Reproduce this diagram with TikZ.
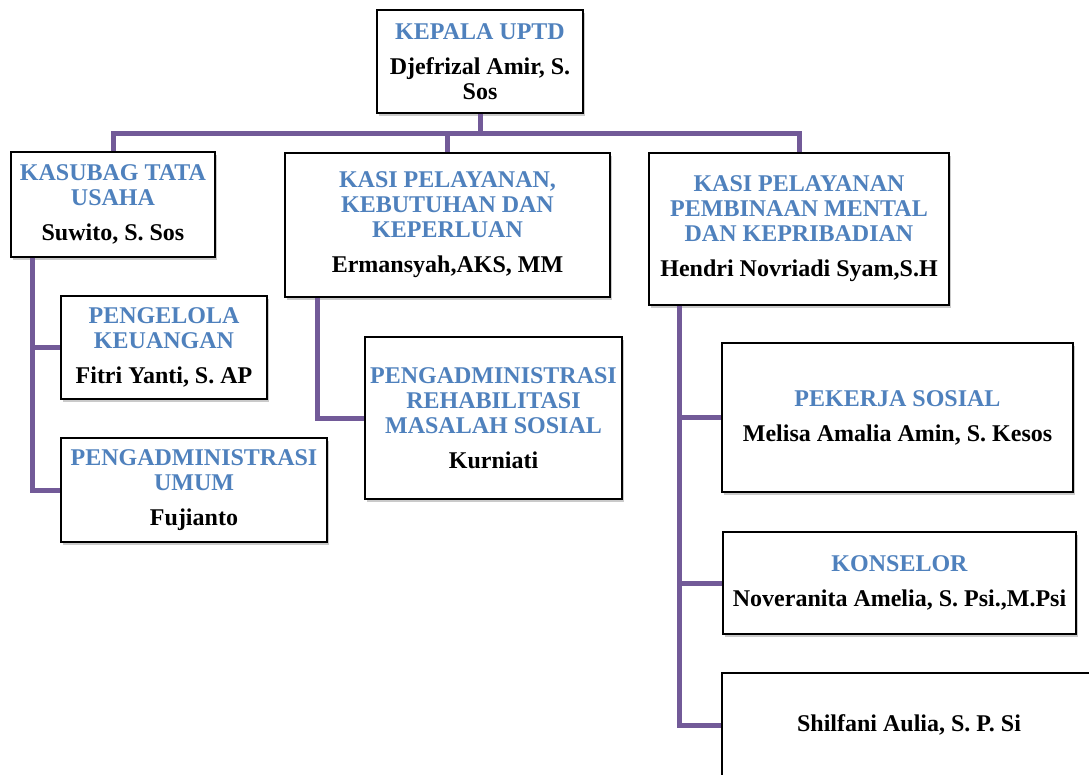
\documentclass[tikz,border=0pt]{standalone}
\usepackage{fontspec}
\setmainfont{Liberation Serif}
\usetikzlibrary{shadows}
\definecolor{tblue}{RGB}{79,129,189}
\definecolor{conpurple}{RGB}{114,90,152}
\newcommand{\ttl}[1]{\textcolor{tblue}{#1}}
\tikzset{
  orgbox/.style={draw=black, line width=1.6pt, fill=white, rectangle, inner sep=0pt,
    align=center, font=\fontsize{24}{25}\selectfont\bfseries,
    drop shadow={shadow xshift=2pt, shadow yshift=-3pt, opacity=0.35, fill=black!60}},
  conn/.style={draw=conpurple, line width=5pt, line join=miter}
}
\begin{document}
\begin{tikzpicture}[x=1pt, y=-1pt]
\clip (0,0) rectangle (1089,774);
\useasboundingbox (0,0) rectangle (1089,774);
\coordinate (bus) at (480,133);
\node[orgbox, minimum width=206pt, minimum height=103pt] (top) at (480,61.5) {\ttl{KEPALA UPTD}\\[10pt]Djefrizal Amir, S.\\Sos};
\node[orgbox, minimum width=204pt, minimum height=105pt] (kasubag) at (113,204.5) {\ttl{KASUBAG TATA}\\\ttl{USAHA}\\[10pt]Suwito, S. Sos};
\node[orgbox, minimum width=325pt, minimum height=144pt] (kasi1) at (447.5,225) {\ttl{KASI PELAYANAN,}\\\ttl{KEBUTUHAN DAN}\\\ttl{KEPERLUAN}\\[10pt]Ermansyah,AKS, MM};
\node[orgbox, minimum width=300pt, minimum height=152pt] (kasi2) at (799,229) {\ttl{KASI PELAYANAN}\\\ttl{PEMBINAAN MENTAL}\\\ttl{DAN KEPRIBADIAN}\\[10pt]Hendri Novriadi Syam,S.H};
\node[orgbox, minimum width=206pt, minimum height=103pt] (keu) at (164,347.5) {\ttl{PENGELOLA}\\\ttl{KEUANGAN}\\[10pt]Fitri Yanti, S. AP};
\node[orgbox, minimum width=266pt, minimum height=104pt] (umum) at (194,490) {\ttl{PENGADMINISTRASI}\\\ttl{UMUM}\\[10pt]Fujianto};
\node[orgbox, minimum width=257pt, minimum height=162pt] (rehab) at (493.5,418) {\ttl{PENGADMINISTRASI}\\\ttl{REHABILITASI}\\\ttl{MASALAH SOSIAL}\\[10pt]Kurniati};
\node[orgbox, minimum width=351pt, minimum height=149pt] (pekerja) at (897.5,417.5) {\ttl{PEKERJA SOSIAL}\\[10pt]Melisa Amalia Amin, S. Kesos};
\node[orgbox, minimum width=353pt, minimum height=102pt] (konselor) at (899.5,583) {\ttl{KONSELOR}\\[10pt]Noveranita Amelia, S. Psi.,M.Psi};
\node[orgbox, minimum width=374pt, minimum height=104pt] (shilfani) at (909,725) {Shilfani Aulia, S. P. Si};
\draw[conn] (top.south) -- (bus);
\draw[conn] (kasubag.north) |- (bus) -| (kasi2.north);
\draw[conn] (bus) -| (kasi1.north);
\draw[conn] ([xshift=22pt]kasubag.south west) |- (keu.west);
\draw[conn] ([xshift=22pt]kasubag.south west) |- (umum.west);
\draw[conn] ([xshift=33pt]kasi1.south west) |- (rehab.west);
\draw[conn] ([xshift=31pt]kasi2.south west) |- (pekerja.west);
\draw[conn] ([xshift=31pt]kasi2.south west) |- (konselor.west);
\draw[conn] ([xshift=31pt]kasi2.south west) |- (shilfani.west);
\end{tikzpicture}
\end{document}
